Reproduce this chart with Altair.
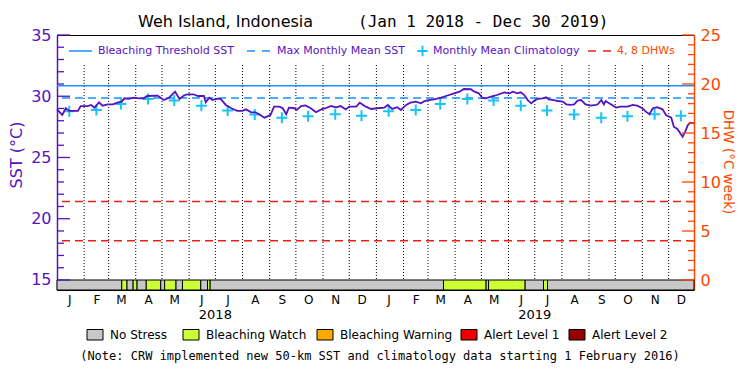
import altair as alt
import pandas as pd

FONT = "DejaVu Sans"
MONO = "DejaVu Sans Mono"
PURPLE = "#5514C0"
BLUE = "#1A90FF"
CYAN = "#19C3F5"
RED = "#E8201C"
ORANGE_RED = "#FF4500"

# ---------------- data ----------------
START = pd.Timestamp("2018-01-01")
END = pd.Timestamp("2019-12-30")

# daily SST (read approx.), as day offset from 2018-01-01
sst_days = [0, 6, 10, 14, 24, 27, 35, 39, 43, 48,
            52, 58, 64, 69, 74, 77, 82, 88, 94, 99,
            103, 115, 122, 128, 135, 140, 145, 149, 156, 161,
            168, 170, 174, 178, 182, 187, 193, 199, 206, 212,
            216, 222, 227, 231, 237, 244, 248, 254, 258, 262,
            265, 271, 274, 279, 284, 290, 296, 302, 307, 313,
            319, 324, 330, 334, 342, 346, 353, 359, 366, 374,
            378, 383, 389, 393, 399, 404, 410, 416, 420, 425,
            431, 439, 442, 448, 454, 460, 465, 473, 477, 482,
            486, 490, 496, 503, 511, 517, 521, 526, 530, 534,
            538, 542, 545, 549, 555, 559, 562, 568, 572, 578,
            582, 587, 591, 595, 599, 604, 610, 616, 618, 622,
            625, 627, 631, 639, 644, 652, 658, 663, 669, 673,
            677, 681, 686, 692, 696, 702, 705, 709, 715, 718,
            721, 724, 728]
sst_vals = [28.93, 28.47, 29.02, 28.80, 28.80, 29.20, 29.20, 29.29, 29.07, 29.51,
            29.23, 29.34, 29.34, 29.47, 29.56, 29.83, 29.78, 29.88, 29.83, 29.83,
            30.02, 30.05, 29.69, 29.88, 30.37, 29.78, 30.05, 30.16, 30.16, 30.02,
            30.02, 29.51, 29.88, 29.69, 29.78, 29.78, 29.29, 29.02, 28.80, 28.80,
            28.93, 28.69, 28.69, 28.53, 28.25, 28.47, 29.15, 29.15, 29.02, 28.53,
            29.07, 29.02, 28.88, 29.20, 29.25, 29.02, 28.69, 28.93, 29.02, 29.20,
            29.10, 29.20, 28.93, 29.15, 29.15, 29.47, 29.15, 28.96, 29.02, 29.07,
            29.29, 28.96, 29.10, 28.88, 29.29, 29.47, 29.56, 29.42, 29.61, 29.69,
            29.75, 29.88, 29.96, 30.10, 30.24, 30.37, 30.59, 30.57, 30.37, 30.24,
            29.88, 29.83, 29.96, 30.10, 30.32, 30.24, 30.37, 30.24, 30.32, 30.10,
            29.69, 29.42, 29.61, 29.78, 29.83, 29.91, 29.75, 29.69, 29.61, 29.56,
            29.34, 29.29, 29.34, 29.64, 29.69, 29.34, 29.23, 29.29, 29.34, 29.69,
            29.34, 29.61, 29.42, 29.07, 29.15, 29.15, 29.29, 29.23, 29.02, 28.74,
            28.53, 29.02, 29.10, 28.93, 28.47, 28.25, 27.51, 27.33, 26.70, 27.11,
            27.65, 27.84, 27.79]

# monthly mean climatology (mid-month)
clim_dates = ["2018-01-15", "2018-02-15", "2018-03-15", "2018-04-15", "2018-05-15", "2018-06-15",
              "2018-07-15", "2018-08-15", "2018-09-15", "2018-10-15", "2018-11-15", "2018-12-15",
              "2019-01-15", "2019-02-15", "2019-03-15", "2019-04-15", "2019-05-15", "2019-06-15",
              "2019-07-15", "2019-08-15", "2019-09-15", "2019-10-15", "2019-11-15", "2019-12-15"]
clim_vals = [28.77, 28.88, 29.37, 29.78, 29.66, 29.23, 28.84, 28.50, 28.25, 28.36, 28.53, 28.41,
             28.77, 28.88, 29.37, 29.78, 29.66, 29.23, 28.84, 28.50, 28.25, 28.36, 28.53, 28.41]

MMM = 29.86
THRESHOLD = 30.86
dhw_levels = [4, 8]

# stress level segments (start day offsets; each runs to the next start)
seg_start = [0, 74, 80, 87, 91.5, 102, 118.6, 123, 136, 143.4, 164.3, 172, 175,
             441.7, 490.4, 493.2, 535, 556, 560.6]
seg_end_last = 728
seg_status = ["No Stress", "Bleaching Watch", "No Stress", "Bleaching Watch", "No Stress",
              "Bleaching Watch", "No Stress", "Bleaching Watch", "No Stress", "Bleaching Watch",
              "No Stress", "Bleaching Watch", "No Stress", "Bleaching Watch", "No Stress",
              "Bleaching Watch", "No Stress", "Bleaching Watch", "No Stress"]

stress_labels = ["No Stress", "Bleaching Watch", "Bleaching Warning", "Alert Level 1", "Alert Level 2"]
stress_colors = ["#C8C8C8", "#CCFF33", "#FAAA00", "#EE0000", "#960000"]

sst_ticks_major = [15, 20, 25, 30, 35]
sst_ticks_minor = [v for v in range(15, 36) if v % 5 != 0]
dhw_ticks_major = [0, 5, 10, 15, 20, 25]
dhw_ticks_minor = [v for v in range(0, 26) if v % 5 != 0]

year_labels = ["2018", "2019"]
year_dates = ["2018-07-01", "2019-07-01"]

title_left = "Weh Island, Indonesia"
title_right = "(Jan 1 2018 - Dec 30 2019)"
note = "(Note: CRW implemented new 50-km SST and climatology data starting 1 February 2016)"


def ms(ts):
    return int(pd.Timestamp(ts).value // 10**6)


DAY = 86400000
START_MS = ms(START)
END_MS = ms(END)

sst_df = pd.DataFrame({"t": [START_MS + d * DAY for d in sst_days], "sst": sst_vals})
clim_df = pd.DataFrame({"t": [ms(d) for d in clim_dates], "clim": clim_vals})
seg_ends = seg_start[1:] + [seg_end_last]
seg_df = pd.DataFrame({
    "t0": [START_MS + int(d * DAY) for d in seg_start],
    "t1": [START_MS + int(d * DAY) for d in seg_ends],
    "status": seg_status,
})
month_starts = [ms(d) for d in pd.date_range("2018-02-01", "2019-12-01", freq="MS")]
mstart_df = pd.DataFrame({"t": month_starts})
mid_months = [ms(d) for d in clim_dates]
year_df = pd.DataFrame({"t": [ms(d) for d in year_dates], "label": year_labels})
dummy = pd.DataFrame({"a": [0]})

W, H = 637, 255

# ---------------- scales & axes ----------------
x_scale = alt.Scale(type="utc", domain=[START_MS, END_MS], nice=False)
x_axis = alt.Axis(values=mid_months, labelExpr="slice(utcFormat(datum.value, '%b'), 0, 1)",
                  domain=False, ticks=False, grid=False, labelFont=FONT, labelFontSize=12,
                  labelColor="black", labelPadding=4, labelOverlap=False, labelFlush=False,
                  title=None, orient="bottom")
sst_scale = alt.Scale(domain=[14.18, 35], nice=False, zero=False)
sst_axis = alt.Axis(orient="left", values=sst_ticks_major, ticks=False, grid=False,
                    domainColor=PURPLE, domainWidth=1.5, labelColor=PURPLE, labelFont=FONT,
                    labelFontSize=16, labelPadding=6, labelFlush=False, title=None)
dhw_scale = alt.Scale(domain=[-1.02, 25], nice=False, zero=False)
dhw_axis = alt.Axis(orient="right", values=dhw_ticks_major, ticks=False, grid=False,
                    domainColor=ORANGE_RED, domainWidth=1.5, labelColor=ORANGE_RED, labelFont=FONT,
                    labelFontSize=16, labelPadding=6, labelFlush=False, title=None)


def X(field):
    return alt.X(field, type="temporal", scale=x_scale, axis=x_axis)


def YS(field=None, datum=None):
    if datum is not None:
        return alt.Y(datum=datum, type="quantitative", scale=sst_scale, axis=sst_axis)
    return alt.Y(field, type="quantitative", scale=sst_scale, axis=sst_axis)


def YD(field=None, datum=None):
    if datum is not None:
        return alt.Y(datum=datum, type="quantitative", scale=dhw_scale, axis=dhw_axis)
    return alt.Y(field, type="quantitative", scale=dhw_scale, axis=dhw_axis)


# ---------------- SST layers ----------------
bar = alt.Chart(seg_df).mark_rect(stroke="black", strokeWidth=1).encode(
    x=X("t0"), x2="t1",
    y=alt.value(245), y2=alt.value(255),
    fill=alt.Fill("status:N", scale=alt.Scale(domain=stress_labels, range=stress_colors), legend=None),
)

month_rules = alt.Chart(mstart_df).mark_rule(color="black", strokeDash=[1, 2], strokeWidth=1).encode(
    x=X("t"), y=alt.value(30), y2=alt.value(245)
)

thr_rule = alt.Chart(dummy).mark_rule(color=BLUE, strokeWidth=1.5).encode(y=YS(datum=THRESHOLD))
mmm_rule = alt.Chart(dummy).mark_rule(color=BLUE, strokeWidth=1.5, strokeDash=[8, 5]).encode(y=YS(datum=MMM))

CROSS = "M-1,0L1,0M0,-1L0,1"
clim_pts = alt.Chart(clim_df).mark_point(shape=CROSS, size=121, filled=False, strokeWidth=2,
                                         color=CYAN, opacity=1).encode(x=X("t"), y=YS("clim"))

sst_line = alt.Chart(sst_df).mark_line(color=PURPLE, strokeWidth=1.8).encode(x=X("t"), y=YS("sst"))

lt_major = alt.Chart(pd.DataFrame({"v": sst_ticks_major})).mark_rule(color=PURPLE, strokeWidth=1.3).encode(
    y=YS("v"), x=alt.value(0), x2=alt.value(13))
lt_minor = alt.Chart(pd.DataFrame({"v": sst_ticks_minor})).mark_rule(color=PURPLE, strokeWidth=1.3).encode(
    y=YS("v"), x=alt.value(0), x2=alt.value(7))

year_text = alt.Chart(year_df).mark_text(font=FONT, fontSize=13, color="black", baseline="middle").encode(
    x=X("t"), y=alt.value(280), text="label:N")

sst_layer = alt.layer(bar, month_rules, thr_rule, mmm_rule, clim_pts, sst_line, lt_major, lt_minor, year_text)

# ---------------- DHW layers ----------------
dhw_rules = alt.Chart(pd.DataFrame({"v": dhw_levels})).mark_rule(
    color=RED, strokeWidth=1.5, strokeDash=[8, 5]).encode(y=YD("v"))
rt_major = alt.Chart(pd.DataFrame({"v": dhw_ticks_major})).mark_rule(color=ORANGE_RED, strokeWidth=1.3).encode(
    y=YD("v"), x=alt.value(W - 12), x2=alt.value(W))
rt_minor = alt.Chart(pd.DataFrame({"v": dhw_ticks_minor})).mark_rule(color=ORANGE_RED, strokeWidth=1.3).encode(
    y=YD("v"), x=alt.value(W - 6), x2=alt.value(W))
dhw_layer = alt.layer(dhw_rules, rt_major, rt_minor)


# ---------------- annotations ----------------
def txt(s, x, y, size, color="black", align="left", angle=0, font=FONT):
    return alt.Chart(dummy).mark_text(text=s, font=font, fontSize=size, color=color, align=align,
                                      baseline="middle", angle=angle).encode(x=alt.value(x), y=alt.value(y))


def seg(x0, x1, y, color, dash=None):
    kw = dict(color=color, strokeWidth=1.5)
    if dash:
        kw["strokeDash"] = dash
    return alt.Chart(dummy).mark_rule(**kw).encode(x=alt.value(x0), x2=alt.value(x1), y=alt.value(y))


ann = [
    txt(title_left, 81, -13, 16),
    txt(title_right, 301, -13, 16, font=MONO),
    txt("SST (°C)", -40, 120, 16, PURPLE, "center", 270),
    txt("DHW (°C week)", 671, 127, 13.5, ORANGE_RED, "center", 90),
    # top legend
    seg(12, 35, 16, BLUE),
    txt("Bleaching Threshold SST", 41, 16, 11, PURPLE),
    seg(190, 213, 16, BLUE, [8, 7]),
    txt("Max Monthly Mean SST", 220, 16, 11, PURPLE),
    alt.Chart(dummy).mark_point(shape=CROSS, size=110, filled=False, strokeWidth=2, color=CYAN,
                                opacity=1).encode(x=alt.value(365.5), y=alt.value(16)),
    txt("Monthly Mean Climatology", 376, 16, 11, PURPLE),
    seg(531, 555, 16, RED, [8, 7]),
    txt("4, 8 DHWs", 560, 16, 11, ORANGE_RED),
    # note
    txt(note, 323, 321, 12, "black", "center", font=MONO),
]

box_x = [30, 126, 260, 404, 512]
for lab, col, bx in zip(stress_labels, stress_colors, box_x):
    ann.append(alt.Chart(dummy).mark_rect(fill=col, stroke="black", strokeWidth=1).encode(
        x=alt.value(bx), x2=alt.value(bx + 16), y=alt.value(294.5), y2=alt.value(305)))
    ann.append(txt(lab, bx + 23, 300, 12))

chart = alt.layer(sst_layer, dhw_layer, *ann).resolve_scale(y="independent").properties(
    width=W, height=H,
    padding={"left": 49, "top": 27, "right": 48, "bottom": 74},
    autosize=alt.AutoSizeParams(type="none"),
    background="white",
).configure_view(stroke="black", strokeWidth=1)

chart.save("out.html", embed_options={"renderer": "svg", "actions": False})
